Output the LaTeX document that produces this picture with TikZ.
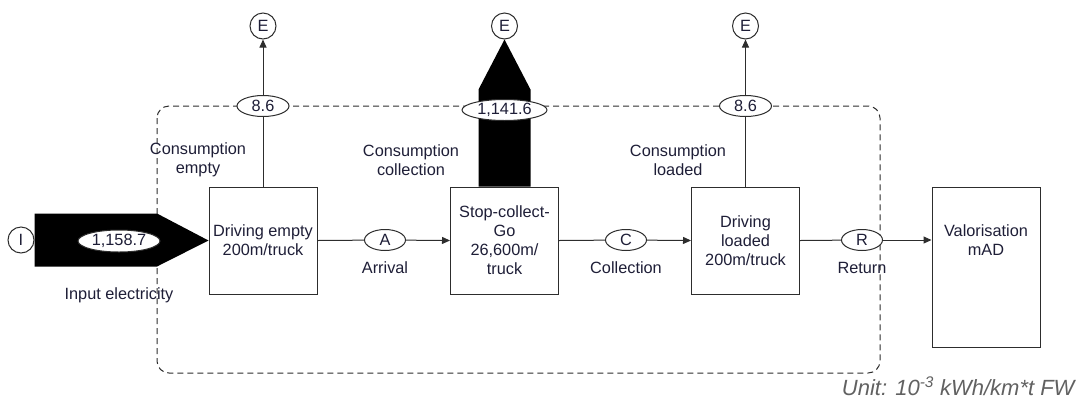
\documentclass[tikz,border=0pt]{standalone}
\usepackage{fontspec}
\setmainfont{Liberation Sans}
\usetikzlibrary{shapes.geometric,arrows.meta,calc}
\definecolor{ink}{RGB}{30,30,55}
\definecolor{linec}{RGB}{45,45,45}
\begin{document}
\begin{tikzpicture}[x=1pt,y=-1pt, font=\fontsize{16.3}{19}\selectfont, line width=1pt, draw=linec, text=ink,
  proc/.style={draw, minimum width=108pt, minimum height=107pt, align=center, inner sep=0pt},
  lab/.style={draw, ellipse, fill=white, minimum width=41pt, minimum height=21pt, inner sep=0pt},
  term/.style={draw, circle, minimum size=26pt, inner sep=0pt},
  arr/.style={-{Triangle[length=8pt,width=7pt]}},
  txt/.style={align=center, inner sep=0pt}]
\useasboundingbox (0,0) rectangle (1083,408);
% system boundary
\draw[dash pattern=on 6pt off 4pt, rounded corners=12pt] (157,106) rectangle (880,373);
% process boxes
\node[proc] (b1) at (263,240.5) {Driving empty\\200m/truck};
\node[proc] (b2) at (504.5,240.5) {Stop-collect-\\Go\\26,600m/\\truck};
\node[proc] (b3) at (745.5,240.5) {Driving\\loaded\\200m/truck};
\node[proc, minimum height=160pt] (b4) at (986,267) {};
\node[txt] (b4t) at (986,240) {Valorisation\\mAD};
% terminals
\node[term] (I) at (21,240) {I};
\node[term] (e1) at (263,26) {E};
\node[term] (e2) at (504.5,26) {E};
\node[term] (e3) at (745.5,26) {E};
% input electricity thick arrow
\fill ($(I.east)+(0,-26.5)$) -- (157,213.5) -- (b1.west) -- (157,266.5) -- ($(I.east)+(0,26.5)$) -- cycle;
\node[lab, minimum width=82pt, minimum height=22pt] (v1) at (119,241) {1,158.7};
% collection thick arrow
\fill ($(b2.north)+(-26,0)$) -- ++(0,-97) -- (e2.south) -- ($(b2.north)+(26,-97)$) -- ($(b2.north)+(26,0)$) -- cycle;
\node[lab, minimum width=85pt, minimum height=21pt] (v2) at (504.5,110) {1,141.6};
% thin outputs
\draw[arr] (b1.north) -- (e1.south);
\node[lab, minimum width=52pt] (v3) at (263,106) {8.6};
\draw[arr] (b3.north) -- (e3.south);
\node[lab, minimum width=52pt] (v4) at (745.5,106) {8.6};
% flow connectors
\node[lab] (A) at (385,240) {A};
\node[lab] (C) at (626,240) {C};
\node[lab] (R) at (862,240) {R};
\draw (b1.east) -- (A);
\draw[arr] (A) -- (b2.west);
\draw (b2.east) -- (C);
\draw[arr] (C) -- (b3.west);
\draw (b3.east) -- (R);
\draw[arr] (R) -- (b4.west |- R);
% labels
\node[txt] (l1) at (385,268) {Arrival};
\node[txt] (l2) at (626,268) {Collection};
\node[txt] (l3) at (862,268) {Return};
\node[txt] (l4) at (119,295) {Input electricity};
\node[txt] (l5) at (198,160) {Consumption\\empty};
\node[txt] (l6) at (411,160) {Consumption\\collection};
\node[txt] (l7) at (678,160) {Consumption\\loaded};
\node[txt, anchor=east, text=black!62, font=\fontsize{22}{26}\selectfont\itshape] (u) at (1075,386) {Unit: 10\textsuperscript{-3} kWh/km*t FW};
\end{tikzpicture}
\end{document}
